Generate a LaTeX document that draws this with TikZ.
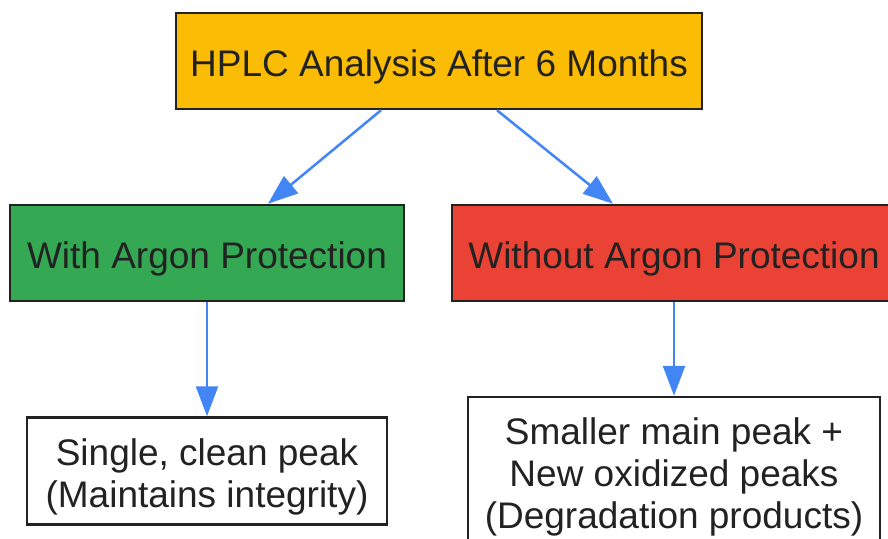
\documentclass[tikz,border=0pt]{standalone}
\usepackage{fontspec}
\setmainfont{Liberation Sans}
\usetikzlibrary{arrows.meta}
\definecolor{gyellow}{HTML}{FBBC05}
\definecolor{ggreen}{HTML}{34A853}
\definecolor{gred}{HTML}{EA4335}
\definecolor{gblue}{HTML}{4285F4}
\definecolor{ink}{HTML}{222222}
\newcommand{\mylines}[2]{\raisebox{#1}[0pt][0pt]{\begin{tabular}[t]{@{}c@{}}#2\end{tabular}}}
\begin{document}
\begin{tikzpicture}[x=1pt,y=-1pt,
  boxbase/.style={draw=ink, line width=2.5pt, inner sep=0pt, text=ink,
    font=\fontsize{37}{42}\selectfont},
  box/.style={boxbase, text height=37pt, text depth=7pt},
  conn/.style={draw=gblue, line width=2.5pt, -{Triangle[length=30pt,width=22pt]}}]
\useasboundingbox (0,0) rectangle (888,538);
\node[box, fill=gyellow, minimum width=526pt, minimum height=96pt] (top) at (439,61) {HPLC Analysis After 6 Months};
\node[box, fill=ggreen, minimum width=394pt, minimum height=96pt] (with) at (207,253) {With Argon Protection};
\node[box, fill=gred, minimum width=444pt, minimum height=96pt] (without) at (674,253) {Without Argon Protection};
\node[boxbase, fill=white, minimum width=360pt, minimum height=107pt] (clean) at (207,471) {\mylines{6pt}{Single, clean peak\\(Maintains integrity)}};
\node[boxbase, fill=white, minimum width=412pt, minimum height=148pt] (degr) at (674,471) {\mylines{27pt}{Smaller main peak +\\New oxidized peaks\\(Degradation products)}};
\draw[conn] ([xshift=-58pt]top.south) -- ([xshift=61pt]with.north);
\draw[conn] ([xshift=58pt]top.south) -- ([xshift=-61pt]without.north);
\draw[conn] (with.south) -- (clean.north);
\draw[conn] (without.south) -- (degr.north);
\end{tikzpicture}
\end{document}
